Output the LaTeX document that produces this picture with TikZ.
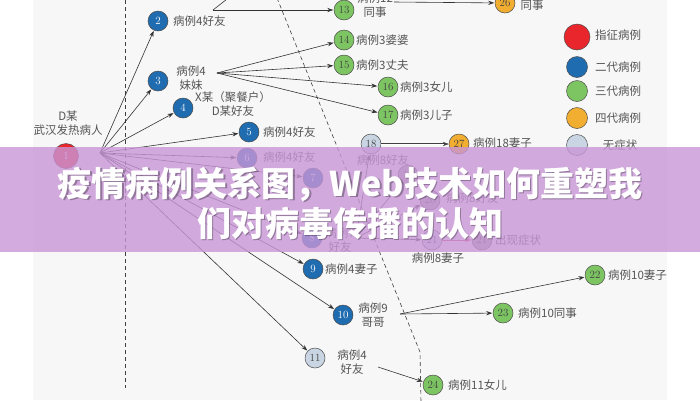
\documentclass[tikz,border=0pt]{standalone}
\usepackage{fontspec}
\usetikzlibrary{arrows.meta}
\newfontfamily\cjk{Noto Sans CJK SC}
\newfontfamily\titlefont{Noto Sans CJK SC}
\definecolor{idxred}{RGB}{232,38,43}
\definecolor{secblue}{RGB}{31,108,176}
\definecolor{thirdgreen}{RGB}{125,196,98}
\definecolor{fourthorange}{RGB}{242,174,48}
\definecolor{asymblue}{RGB}{201,213,227}
\definecolor{midgray}{RGB}{168,168,168}
\definecolor{bannerpurple}{RGB}{200,150,215}
\definecolor{labgray}{RGB}{85,85,85}
\definecolor{symred}{RGB}{224,64,90}
\tikzset{
  cnode/.style={circle, draw=black!70, line width=0.5pt, minimum size=20pt, inner sep=0pt,
    font=\fontsize{11}{11}\selectfont},
  idxcase/.style={cnode, fill=idxred, text=white, minimum size=25pt},
  secnd/.style={cnode, fill=secblue, text=white},
  third/.style={cnode, fill=thirdgreen, text=black!75},
  fourth/.style={cnode, fill=fourthorange, text=black!75},
  asym/.style={cnode, fill=asymblue, text=black!75},
  grayc/.style={cnode, fill=midgray, text=black!75},
  lab/.style={font=\cjk\fontsize{11.5}{13.5}\selectfont, text=labgray, align=center, inner sep=0pt},
  arr/.style={draw=black!80, line width=0.6pt, -{Stealth[length=6pt,width=4.2pt]}, shorten >=0.5pt},
  plainline/.style={draw=black!80, line width=0.6pt},
  divider/.style={draw=black!75, line width=0.6pt, dash pattern=on 4pt off 3pt},
  titletext/.style={font=\titlefont\bfseries\fontsize{34}{40}\selectfont, align=center, inner sep=0pt},
}
\begin{document}
\begin{tikzpicture}[x=1pt,y=-1pt]
\useasboundingbox (0,0) rectangle (700,400);
\clip (0,0) rectangle (700,400);
\fill[white] (0,0) rectangle (700,400);
\fill[black!3] (33,0) rectangle (667,400);

% dividers
\coordinate (dvA) at (125,0);
\coordinate (dvB) at (125,388);
\draw[divider] (dvA) -- (dvB);
\coordinate (dgA) at (277,-2);
\coordinate (dgB) at (420,352);
\coordinate (dgC) at (421,402);
\draw[divider] (dgA) -- (dgB) -- (dgC);

% nodes
\node[idxcase] (n1) at (66,156) {1};
\node[secnd] (n2) at (158,21) {2};
\node[secnd] (n3) at (158,81) {3};
\node[secnd] (n4) at (183,108) {4};
\node[secnd] (n5) at (249,132) {5};
\node[secnd] (n6) at (247,158) {6};
\node[secnd] (n7) at (313,178) {7};
\node[secnd] (n8) at (312,238) {8};
\node[secnd] (n9) at (313,269) {9};
\node[secnd] (n10) at (343,315) {10};
\node[asym] (n11) at (315,358) {11};
\node[third] (n13) at (344,10) {13};
\node[third] (n14) at (344,40) {14};
\node[third] (n15) at (344,65) {15};
\node[third] (n16) at (388,87) {16};
\node[third] (n17) at (388,115) {17};
\node[asym] (n18) at (371,144) {18};
\node[grayc] (n19) at (408,175) {19};
\node[grayc] (n20) at (430,200) {20};
\node[asym] (n21) at (432,240) {21};
\node[grayc] (n21b) at (482,240) {21};
\node[third] (n22) at (595,275) {22};
\node[third] (n23) at (503,313) {23};
\node[third] (n24) at (433,385) {24};
\node[fourth] (n26) at (505,3) {26};
\node[fourth] (n27) at (459,144) {27};

% labels
\node[lab] (l1) at (68,123) {D某\\武汉发热病人};
\node[lab, anchor=west] (l2) at (173,21) {病例4好友};
\node[lab] (l3) at (191,78) {病例4\\妹妹};
\node[lab] (l4) at (233,104) {X某（聚餐户）\\D某好友};
\node[lab, anchor=west] (l5) at (263,132) {病例4好友};
\node[lab, anchor=west] (l6) at (263,157) {病例4好友};
\node[lab] (l8) at (340,240) {病例7\\好友};
\node[lab, anchor=west] (l9) at (325,269) {病例4妻子};
\node[lab] (l10) at (373,315) {病例9\\哥哥};
\node[lab] (l11) at (352,362) {病例4\\好友};
\node[lab] (l13) at (375,5) {病例12\\同事};
\node[lab, anchor=west] (l14) at (356,40) {病例3婆婆};
\node[lab, anchor=west] (l15) at (356,65) {病例3丈夫};
\node[lab, anchor=west] (l16) at (400,87) {病例3女儿};
\node[lab, anchor=west] (l17) at (400,115) {病例3儿子};
\node[lab] (l19) at (383,160) {病例8好友};
\node[lab, anchor=west] (l20) at (446,198) {病例8好友};
\node[lab] (l21) at (438,258) {病例8妻子};
\node[lab, anchor=west] (l21b) at (495,240) {出现症状};
\node[lab, anchor=west] (l22) at (608,275) {病例10妻子};
\node[lab, anchor=west] (l23) at (518,313) {病例10同事};
\node[lab, anchor=west] (l24) at (448,385) {病例11女儿};
\node[lab] (l26) at (532,-2) {病例13\\同事};
\node[lab, anchor=west] (l27) at (473,143) {病例18妻子};

% hubs
\coordinate (h1) at (100,153);
\coordinate (h3) at (217,73);
\coordinate (h12) at (213,10);
\coordinate (h12up) at (245,-15);
\coordinate (h13) at (394,2);
\coordinate (h8) at (356,238);
\coordinate (h10) at (400,314);
\coordinate (h11) at (378,367);

% edges
\foreach \t in {n2,n3,n4,n5,n6,n7,n8,n9,n10,n11}
  \draw[arr] (h1) -- (\t);
\foreach \t in {n14,n15,n16,n17}
  \draw[arr] (h3) -- (\t);
\draw[arr] (h12) -- (n13);
\draw[plainline] (h12) -- (h12up);
\draw[arr] (h13) -- (n26);
\foreach \t in {n18,n19,n20,n21}
  \draw[arr] (h8) -- (\t);
\draw[draw=black!75, double=white, double distance=1pt, line width=0.5pt, -{Stealth[length=6pt,width=4.2pt]}] (n18) -- (n27);
\draw[arr, draw=symred, -{Stealth[length=6pt,width=4.2pt,fill=symred]}] (n21) -- (n21b);
\draw[arr] (h10) -- (n22);
\draw[arr] (h10) -- (n23);
\draw[arr] (h11) -- (n24);

% legend
\node[cnode, fill=idxred, minimum size=26pt] (g1) at (577,37) {};
\node[cnode, fill=secblue, minimum size=21pt] (g2) at (577,67) {};
\node[cnode, fill=thirdgreen, minimum size=21pt] (g3) at (577,91) {};
\node[cnode, fill=fourthorange, minimum size=21pt] (g4) at (577,118) {};
\node[cnode, fill=asymblue, minimum size=21pt] (g5) at (577,145) {};
\node[lab] (gl1) at (618,35) {指征病例};
\node[lab] (gl2) at (618,67) {二代病例};
\node[lab] (gl3) at (618,91) {三代病例};
\node[lab] (gl4) at (618,118) {四代病例};
\node[lab] (gl5) at (620,145) {无症状};

% banner overlay
\fill[bannerpurple, fill opacity=0.8] (0,147) rectangle (700,252);
\node[titletext, text=black, text opacity=0.3] (tshadow) at (351.5,204.5) {疫情病例关系图，Web技术如何重塑我\\们对病毒传播的认知};
\node[titletext, text=white] (title) at (350,203) {疫情病例关系图，Web技术如何重塑我\\们对病毒传播的认知};
\end{tikzpicture}
\end{document}
